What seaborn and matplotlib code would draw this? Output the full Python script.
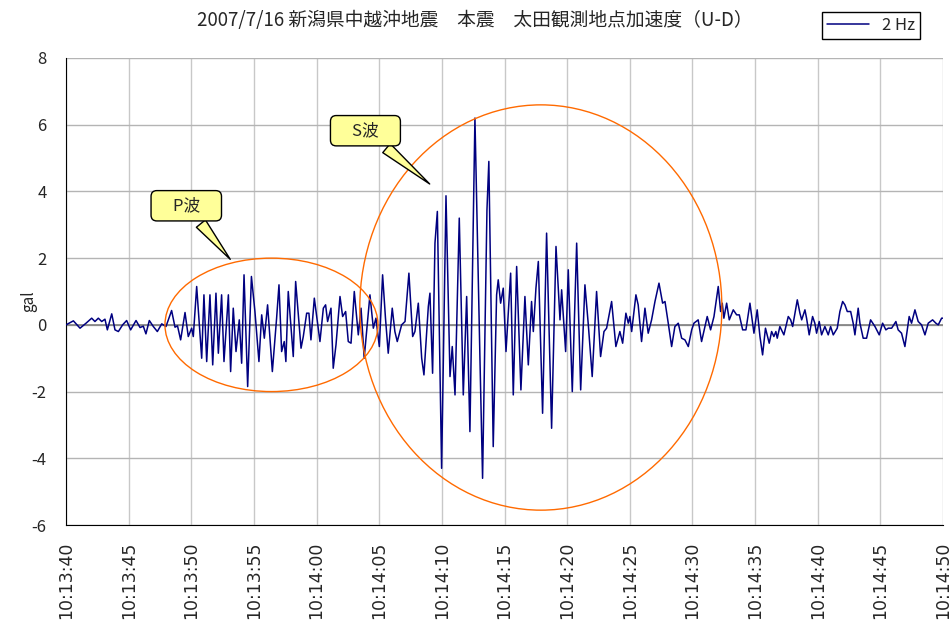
import pandas as pd
import seaborn as sns
import matplotlib
matplotlib.use("Agg")
import matplotlib.pyplot as plt
from matplotlib.patches import Ellipse

# seconds after 10:13:40 and acceleration (gal)
t_pre = [0.0, 0.59, 1.12, 1.6, 2.05, 2.31, 2.58, 2.85, 3.11, 3.30, 3.65, 3.91, 4.18, 4.52,
         4.84, 5.16, 5.59, 5.91, 6.17, 6.38, 6.65, 6.97, 7.29, 7.64, 7.98]
a_pre = [0.0, 0.12, -0.1, 0.05, 0.2, 0.1, 0.2, 0.1, 0.17, -0.15, 0.33, -0.15, -0.2, 0.0,
         0.13, -0.15, 0.13, -0.08, -0.04, -0.27, 0.13, -0.05, -0.2, 0.03, -0.05]

t_p = [8.43, 8.70, 8.9, 9.15, 9.50, 9.76, 10.03, 10.16, 10.43, 10.83, 11.01, 11.23, 11.49,
       11.71, 11.97, 12.16, 12.42, 12.61, 12.96, 13.14, 13.35, 13.57, 13.83, 14.02, 14.21,
       14.5, 14.8, 15.08, 15.40, 15.62, 15.83, 16.09, 16.47, 16.81, 17.0, 17.21, 17.42,
       17.55, 17.74, 18.14, 18.33, 18.76, 18.94, 19.21, 19.39, 19.55, 19.82, 20.27, 20.54,
       20.72, 20.88, 21.15, 21.33, 21.55, 21.87, 22.08, 22.32, 22.53, 22.75, 23.01, 23.33,
       23.55, 23.8, 24.26, 24.53, 24.74, 25.01, 25.27, 25.5, 25.72, 26.04, 26.25, 26.44,
       26.79, 27.06, 27.37, 27.67, 27.85, 28.12, 28.39, 28.57, 28.92, 29.05, 29.26]
a_p = [0.43, -0.07, -0.03, -0.45, 0.37, -0.35, -0.1, -0.35, 1.15, -1.0, 0.9, -1.1, 0.9,
       -1.2, 0.95, -0.85, 0.9, -1.1, 0.9, -1.4, 0.5, -0.8, 0.15, -1.15, 1.5,
       -1.85, 1.45, 0.4, -1.1, 0.3, -0.4, 0.6, -1.4, 0.2, 1.2, -0.8, -0.5,
       -1.1, 1.0, -0.95, 1.3, -0.7, -0.35, 0.35, 0.35, -0.45, 0.8, -0.5, 0.5,
       0.6, 0.1, 0.5, -1.3, -0.6, 0.85, 0.25, 0.4, -0.5, -0.55, 1.0, -0.3,
       0.5, -1.0, 0.9, -0.1, 0.2, -0.65, 1.5, 0.2, -0.85, 0.5, -0.2, -0.5,
       0.0, 0.1, 1.55, -0.35, -0.2, 0.65, -1.0, -1.5, 0.55, 0.95, -1.45]

t_s = [29.45, 29.64, 29.98, 30.33, 30.65, 30.83, 31.05, 31.39, 31.71, 31.98, 32.24, 32.64,
       33.04, 33.25, 33.6, 33.75, 34.1, 34.37, 34.50, 34.69, 34.90, 35.12, 35.49, 35.70,
       35.97, 36.31, 36.63, 36.90, 37.16, 37.30, 37.51, 37.70, 38.04, 38.36, 38.76, 39.11,
       39.43, 39.56, 39.88, 40.09, 40.41, 40.76, 41.08, 41.42, 41.69, 42.00, 42.35, 42.67,
       42.94, 43.15, 43.55, 43.89, 44.21, 44.43, 44.69, 44.88, 45.01, 45.15, 45.49, 45.67,
       45.94, 46.21, 46.47, 46.74, 47.01, 47.33, 47.62, 47.81, 48.07, 48.34, 48.60, 48.87,
       49.14, 49.40, 49.67, 49.94, 50.12, 50.46, 50.73, 51.18, 51.45, 51.72, 52.06, 52.25,
       52.38, 52.51, 52.73, 52.94, 53.26, 53.53, 53.74, 54.01, 54.27, 54.59, 54.91, 55.17,
       55.39]
a_s = [2.45, 3.4, -4.3, 3.87, -1.55, -0.65, -2.1, 3.2, -2.1, 0.85, -3.2, 6.2,
       -1.0, -4.6, 3.45, 4.9, -3.65, 0.9, 1.35, 0.65, 1.1, -0.8, 1.55, -2.1,
       1.75, -1.95, 0.85, -1.2, 0.7, -0.2, 1.1, 1.9, -2.65, 2.75, -3.1, 2.35,
       0.15, 1.05, -0.8, 1.65, -2.0, 2.45, -1.95, 1.2, 0.0, -1.55, 1.0, -0.95,
       -0.2, -0.1, 0.7, -0.65, -0.2, -0.55, 0.35, 0.05, 0.25, -0.2, 0.9, 0.6,
       -0.5, 0.5, -0.25, 0.15, 0.7, 1.25, 0.65, 0.7, 0.05, -0.65, -0.05, 0.05,
       -0.4, -0.45, -0.65, -0.15, 0.05, 0.15, -0.5, 0.25, -0.15, 0.25, 1.15, 0.4,
       0.65, 0.2, 0.65, 0.15, 0.45, 0.3, 0.3, -0.15, -0.15, 0.65, -0.25, 0.45,
       -0.35]

t_coda = [55.60, 55.83, 56.13, 56.32, 56.50, 56.66, 56.77, 56.98, 57.30, 57.65, 57.84, 58.00,
          58.37, 58.58, 58.72, 58.98, 59.11, 59.32, 59.59, 59.77, 59.91, 60.12, 60.31, 60.57,
          60.84, 61.03, 61.24, 61.56, 61.77, 61.99, 62.17, 62.36, 62.63, 62.83, 62.97, 63.23,
          63.37, 63.63, 63.90, 64.22, 64.57, 64.91, 65.18, 65.44, 65.63, 65.90, 66.24, 66.42,
          66.69, 66.96, 67.30, 67.49, 67.76, 68.02, 68.29, 68.56, 68.82, 69.17, 69.43, 69.62,
          69.89, 70.0]
a_coda = [-0.9, -0.1, -0.55, -0.2, -0.35, -0.2, -0.4, -0.05, -0.3, 0.25, 0.15, -0.05,
          0.75, 0.35, 0.15, 0.45, 0.2, -0.3, 0.25, 0.05, -0.25, 0.1, -0.3, -0.05,
          -0.3, -0.05, -0.3, -0.1, 0.4, 0.7, 0.6, 0.4, 0.4, 0.05, -0.3, 0.5,
          0.05, -0.4, -0.4, 0.15, -0.05, -0.3, 0.05, -0.15, -0.1, -0.1, 0.1, -0.15,
          -0.25, -0.65, 0.25, 0.05, 0.45, 0.1, 0.0, -0.3, 0.05, 0.15, 0.05, 0.0,
          0.2, 0.2]

tick_sec = list(range(0, 71, 5))
tick_lab = ["10:13:40", "10:13:45", "10:13:50", "10:13:55", "10:14:00", "10:14:05",
            "10:14:10", "10:14:15", "10:14:20", "10:14:25", "10:14:30", "10:14:35",
            "10:14:40", "10:14:45", "10:14:50"]

df = pd.DataFrame({"t": t_pre + t_p + t_s + t_coda, "gal": a_pre + a_p + a_s + a_coda})

sns.set_style("white")
plt.rcParams['font.family'] = ['Noto Sans CJK JP', 'DejaVu Sans']

fig = plt.figure(figsize=(9.53, 6.22), dpi=100)
ax = fig.add_axes([66/953, 1-525/622, 877/953, 467/622])

# grid
for s in tick_sec:
    ax.axvline(s, color='#c8c8c8', lw=1, zorder=0)
for y in range(-6, 9, 2):
    ax.axhline(y, color='#b4b4b4', lw=1, zorder=0)
ax.axhline(0, color='#808080', lw=1.2, zorder=0)

sns.lineplot(data=df, x="t", y="gal", ax=ax, color='#000080', lw=1.1, sort=False,
             label="2 Hz", zorder=3)

# P / S wave marks
ax.add_patch(Ellipse((16.4, 0.0), 17.0, 4.0, fill=False, ec='#ff6a00', lw=1, zorder=4))
ax.add_patch(Ellipse((37.9, 0.52), 28.9, 12.15, fill=False, ec='#ff6a00', lw=1, zorder=4))

box = dict(boxstyle='round,pad=0.4,rounding_size=0.35', fc='#ffff99', ec='black', lw=1)
arr = dict(arrowstyle='wedge,tail_width=0.7,shrink_factor=0.5', fc='#ffff99', ec='black', lw=1)
ax.annotate("    P波    ", xy=(13.25, 1.9), xytext=(9.6, 3.57), ha='center', va='center',
            fontsize=12, bbox=box, arrowprops=arr, zorder=5)
ax.annotate("    S波    ", xy=(29.2, 4.17), xytext=(23.9, 5.82), ha='center', va='center',
            fontsize=12, bbox=box, arrowprops=arr, zorder=5)

ax.set_xlim(0, 70)
ax.set_ylim(-6, 8)
ax.set_xticks(tick_sec)
ax.set_xticklabels(tick_lab, rotation=90, fontsize=12.5, family=['DejaVu Sans'])
ax.set_yticks(range(-6, 9, 2))
ax.set_yticklabels([str(v) for v in range(-6, 9, 2)], fontsize=12)
ax.tick_params(axis='x', direction='in', length=4, color='#808080', pad=12)
ax.tick_params(axis='y', direction='out', length=6, color='black', pad=8)
ax.set_xlabel("")
ax.set_ylabel("gal", fontsize=11)
ax.yaxis.set_label_coords(-0.033, 0.48)

for side in ['top', 'right']:
    ax.spines[side].set_visible(False)
ax.spines['left'].set_color('black')
ax.spines['bottom'].set_color('black')

fig.text(0.498, 0.967, "2007/7/16 新潟県中越沖地震　本震　太田観測地点加速度（U-D）",
         ha='center', va='center', fontsize=13.5)

ax.legend(loc='upper right', bbox_to_anchor=(920/953, 1-12/622), bbox_transform=fig.transFigure,
          borderaxespad=0, fancybox=False, edgecolor='black', fontsize=12, handlelength=2.5,
          borderpad=0.3, framealpha=1)

fig.savefig("out.png", dpi=100)
